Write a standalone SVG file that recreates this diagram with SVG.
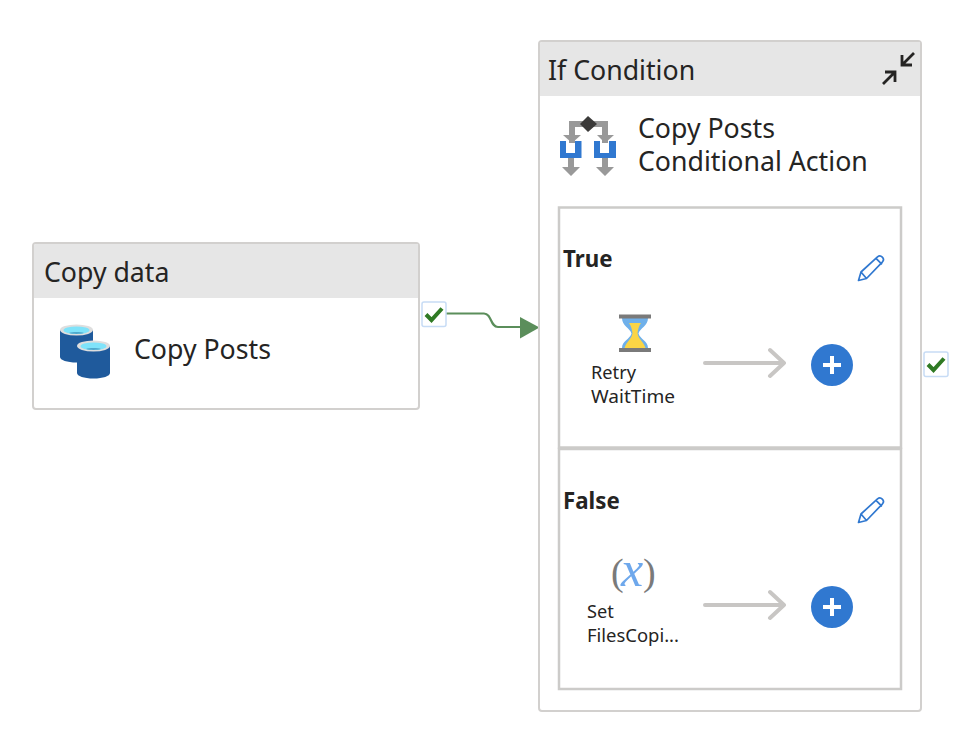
<svg xmlns="http://www.w3.org/2000/svg" width="962" height="736" viewBox="0 0 962 736">
<style>
text{font-family:"Noto Sans","Open Sans","Liberation Sans",sans-serif;fill:#252423}
.t{font-size:26.700px}.s{font-size:18.200px}.b{font-size:22.300px;font-weight:700}
.box{fill:#fff;stroke:#d2d0ce;stroke-width:2}
.hdr{fill:#e6e6e6}
.panel{fill:#fff;stroke:#cccbc9;stroke-width:2.500}
.gray{fill:none;stroke:#c8c6c4;stroke-width:4;stroke-linecap:round;stroke-linejoin:round}
.chk{fill:#fff;stroke:#c7dcf5;stroke-width:1.500}
.tick{fill:none;stroke:#2f7a24;stroke-width:4}
.pen{fill:none;stroke:#3078d0;stroke-width:1.700;stroke-linejoin:round}
</style>
<defs>
<g id="check"><rect class="chk" x="0" y="0" width="24" height="24.500" rx="2"/><path class="tick" d="M4 12.500l5.500 5.500L20 6.500"/></g>
<g id="pencil"><path class="pen" d="M0.500 25.500L3 17 19.500 1.800c1.500-1.200 3.500-1 4.800 0.300s1.500 3.200 0.200 4.700L8.500 23.500zM3 17l5.500 6.500M18 3.300l6 6"/></g>
<g id="plus"><circle r="21" fill="#3078d0"/><path d="M-9 0H9M0-9V9" stroke="#fff" stroke-width="4" fill="none"/></g>
<g id="cyl"><path d="M0 6V33c0 3 7 5.500 16.500 5.500S33 36 33 33V6z" fill="#1f5a9c"/><ellipse cx="16.500" cy="6" rx="16.500" ry="5.500" fill="#dedede"/><ellipse cx="16.500" cy="6.300" rx="13" ry="3.800" fill="#7fe3fa"/><path d="M9 9c3-1.200 12-1.200 15 0-4 1.200-11 1.200-15 0z" fill="#4fa8cc"/></g>
</defs>
<rect width="962" height="736" fill="#fff"/>

<g id="connectors">
<path d="M446 313.500H484c8 0 6 13.500 14 13.500H522" fill="none" stroke="#5b8e5b" stroke-width="2.200"/>
<path d="M520 317L539.500 327.500 520 338.500z" fill="#5b8e5b"/>
</g>

<g id="copy-data">
<rect class="box" x="33" y="243" width="386" height="166" rx="3"/>
<path class="hdr" d="M34 246a2 2 0 0 1 2-2H418V298H34z"/>
<text class="t" x="44" y="282">Copy data</text>
<use href="#cyl" x="60" y="324"/>
<use href="#cyl" x="77" y="340"/>
<text class="t" x="134" y="359">Copy Posts</text>
</g>
<g id="copy-data-success"><use href="#check" x="422" y="302"/></g>

<g id="if-condition">
<rect class="box" x="539" y="41" width="382" height="670" rx="3"/>
<path class="hdr" d="M540 44a2 2 0 0 1 2-2H920V96H540z"/>
<text class="t" x="548" y="80">If Condition</text>
<g fill="none" stroke="#252423" stroke-width="2.800">
<path d="M914 53L902 65M902 55V65H912"/>
<path d="M883 84L895 72M885 72H895V82"/>
</g>
<g id="condition-icon">
<path d="M572 143V124H605V143" fill="none" stroke="#999" stroke-width="6"/>
<path d="M563 135H581L572 143zM597 135H614L605 143z" fill="#999"/>
<path d="M571 156V170M605 156V170" stroke="#999" stroke-width="6"/>
<path d="M562 167H580L571 176zM596 167H614L605 176z" fill="#999"/>
<path d="M588 116L597 124 588 132 580 124z" fill="#3b3a39"/>
<path d="M560 141H566V153H575V141H581.500V158H560zM594 141H600V153H609V141H616V158H594z" fill="#3078d0"/>
</g>
<text class="t"><tspan x="638" y="138">Copy Posts</tspan><tspan x="638" y="171">Conditional Action</tspan></text>
</g>

<g id="true-branch">
<rect class="panel" x="559" y="207.500" width="342" height="240"/>
<text class="b" x="563" y="267">True</text>
<use href="#pencil" x="858" y="255"/>
<g id="retry-waittime">
<path d="M622 318H648C648 326 640 328 638.500 333.500C640 339 648 341 648 348H622C622 341 630 339 631.500 333.500C630 328 622 326 622 318z" fill="#6fb0ea"/>
<path d="M629 323H641C639 326 638 329 637.500 333C638 339 644 342 645.500 348H624.500C626 342 632 339 632.500 333C632 329 631 326 629 323z" fill="#fbd545"/>
<rect x="619" y="314.500" width="32" height="4" fill="#7a7a7a"/>
<rect x="619" y="348" width="32" height="4" fill="#7a7a7a"/>
<text class="s"><tspan x="591" y="379">Retry</tspan><tspan x="591" y="403" textLength="84" lengthAdjust="spacingAndGlyphs">WaitTime</tspan></text>
</g>
<path class="gray" d="M705 363H783M770 350L784 363 770 376"/>
<use href="#plus" x="832" y="365"/>
</g>

<g id="false-branch">
<rect class="panel" x="559" y="449" width="342" height="240"/>
<text class="b" x="563" y="509">False</text>
<use href="#pencil" x="858" y="497"/>
<g id="set-filescopied">
<text y="585" style="font-family:'Liberation Serif',serif;font-size:38px;fill:#7a7a7a"><tspan x="611">(</tspan><tspan x="621" y="586" style="font-size:50px;font-style:italic;fill:#6ea8ec">x</tspan><tspan x="643" y="585">)</tspan></text>
<text class="s"><tspan x="587" y="618">Set</tspan><tspan x="587" y="642" textLength="92" lengthAdjust="spacingAndGlyphs">FilesCopi...</tspan></text>
</g>
<path class="gray" d="M705 605H783M770 592L784 605 770 618"/>
<use href="#plus" x="832" y="607"/>
</g>
<g id="if-condition-success"><use href="#check" x="924" y="352"/></g>
</svg>
